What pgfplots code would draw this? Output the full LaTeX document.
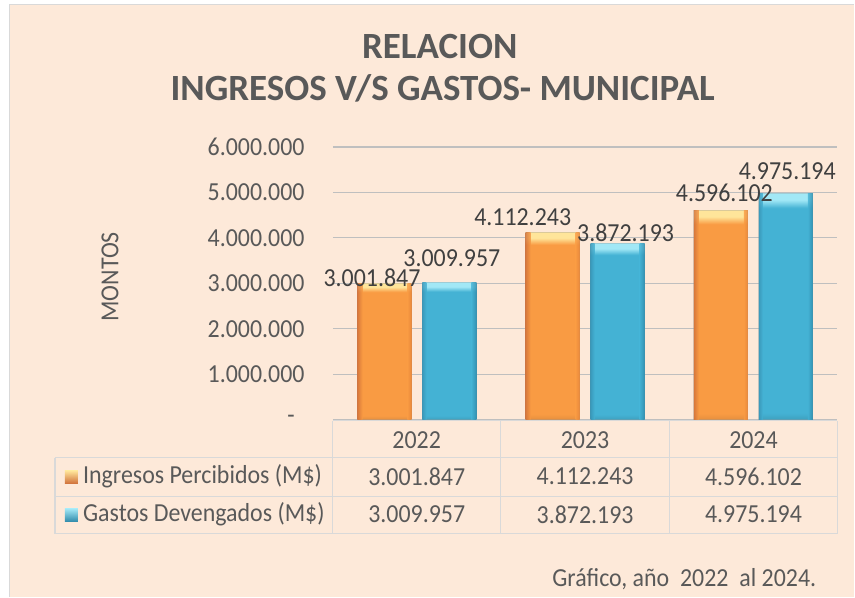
\documentclass[border=0pt]{standalone}
\usepackage{pgfplots}
\pgfplotsset{compat=1.18}
\usepackage{pgfplotstable}
\usepackage{fontspec}
\setmainfont{Carlito}[FakeStretch=0.92]
\newfontfamily\titlefont{Carlito}
\definecolor{bg}{HTML}{FDE9D9}
\definecolor{brd}{HTML}{D9D9D9}
\definecolor{txt}{HTML}{595959}
\definecolor{lbl}{HTML}{404040}
\definecolor{grid}{HTML}{D6DCE4}
\definecolor{oL}{HTML}{D0703A}
\definecolor{oM}{HTML}{F99B43}
\definecolor{oR}{HTML}{E5853A}
\definecolor{oH}{HTML}{FFE59A}
\definecolor{bL}{HTML}{3894B5}
\definecolor{bM}{HTML}{44B2D4}
\definecolor{bR}{HTML}{2F8AAA}
\definecolor{bH}{HTML}{A2E8F6}
\pgfdeclareverticalshading{overt}{100bp}{color(0bp)=(oM!92!black); color(25bp)=(oM!92!black); color(26.5bp)=(oM); color(71.8bp)=(oM); color(73.6bp)=(oH); color(75bp)=(oH); color(100bp)=(oH)}
\pgfdeclareverticalshading{bvert}{100bp}{color(0bp)=(bM!90!black); color(25bp)=(bM!90!black); color(26.5bp)=(bM); color(71.8bp)=(bM); color(73.6bp)=(bH); color(75bp)=(bH); color(100bp)=(bH)}
\newcommand\f{\fontsize{26}{30}\selectfont}
\pgfplotstableread{
x year ing gas
0 2022 3001847 3009957
1 2023 4112243 3872193
2 2024 4596102 4975194
}\datatable
\newcommand\cell[2]{\pgfplotstablegetelem{#1}{#2}\of\datatable\pgfmathprintnumber[fixed,1000 sep={.},assume math mode=true]{\pgfplotsretval}}
\begin{document}
\begin{tikzpicture}[x=1pt,y=1pt]
\fill[white] (0,0) rectangle (855,597);
\fill[bg] (9,0) rectangle (855,592.5);
\draw[brd, line width=1.2pt] (9.6,0) -- (9.6,592.4) -- (855,592.4);
\node[font=\fontsize{37}{40}\selectfont\titlefont\bfseries, text=txt] at (440,550) {RELACION};
\node[font=\fontsize{37}{40}\selectfont\titlefont\bfseries, text=txt] at (443,509) {INGRESOS V/S GASTOS- MUNICIPAL};
\begin{axis}[at={(333pt,177pt)}, anchor=south west, scale only axis,
  width=505pt, height=273pt, xmin=-0.5, xmax=2.5, ymin=0, ymax=6000000,
  xtick=\empty, ytick={0,1000000,2000000,3000000,4000000,5000000,6000000},
  yticklabels={\hbox{-\kern10pt},1.000.000,2.000.000,3.000.000,4.000.000,5.000.000,6.000.000},
  /pgf/number format/assume math mode=true,
  scaled y ticks=false,
  yticklabel style={font=\f, text=txt, inner sep=0pt, xshift=-28pt},
  ymajorgrids, grid style={grid, line width=1.3pt},
  axis line style={draw=none}, tick style={draw=none},
  clip=false]
\pgfplotsinvokeforeach{0,1,2}{
\addplot[ybar, bar width=54pt, bar shift=-32.5pt, draw=black!40, draw opacity=0.35, line width=1pt,
  shading=overt, restrict x to domain=#1:#1]
  table[x=x,y=ing]{\datatable};
\addplot[ybar, bar width=5pt, bar shift=-57pt, draw=none,
  left color=oL, right color=oM, fill opacity=0.8, restrict x to domain=#1:#1]
  table[x=x,y=ing]{\datatable};
\addplot[ybar, bar width=4pt, bar shift=-7.5pt, draw=none,
  left color=oM, right color=oR, fill opacity=0.8, restrict x to domain=#1:#1]
  table[x=x,y=ing]{\datatable};
\addplot[ybar, bar width=54pt, bar shift=32.5pt, draw=black!40, draw opacity=0.35, line width=1pt,
  shading=bvert, restrict x to domain=#1:#1]
  table[x=x,y=gas]{\datatable};
\addplot[ybar, bar width=4pt, bar shift=7.5pt, draw=none,
  left color=bL, right color=bM, fill opacity=0.8, restrict x to domain=#1:#1]
  table[x=x,y=gas]{\datatable};
\addplot[ybar, bar width=5pt, bar shift=57pt, draw=none,
  left color=bM, right color=bR, fill opacity=0.8, restrict x to domain=#1:#1]
  table[x=x,y=gas]{\datatable};
}
\node[font=\f, text=lbl] at (axis cs:-0.267,3120000) {\cell{0}{ing}};
\node[font=\f, text=lbl] at (axis cs:0.208,3560000) {\cell{0}{gas}};
\node[font=\f, text=lbl] at (axis cs:0.629,4460000) {\cell{1}{ing}};
\node[font=\f, text=lbl] at (axis cs:1.241,4110000) {\cell{1}{gas}};
\node[font=\f, text=lbl] at (axis cs:1.828,4990000) {\cell{2}{ing}};
\node[font=\f, text=lbl] at (axis cs:2.202,5470000) {\cell{2}{gas}};
\end{axis}
% data table
\begin{scope}[brd, line width=1.3pt]
\draw (333,176) -- (838,176);
\draw (55,139) -- (838,139);
\draw (55,100) -- (838,100);
\draw (55,63) -- (838,63);
\draw (55,63) -- (55,139);
\foreach \xx in {333,501,670,838} \draw (\xx,63) -- (\xx,176);
\end{scope}
\node[font=\f, text=txt] at (417,157) {2022};
\node[font=\f, text=txt] at (585.5,157) {2023};
\node[font=\f, text=txt] at (754,157) {2024};
\node[font=\f, text=txt] at (417,120) {\cell{0}{ing}};
\node[font=\f, text=txt] at (585.5,120) {\cell{1}{ing}};
\node[font=\f, text=txt] at (754,120) {\cell{2}{ing}};
\node[font=\f, text=txt] at (417,82) {\cell{0}{gas}};
\node[font=\f, text=txt] at (585.5,82) {\cell{1}{gas}};
\node[font=\f, text=txt] at (754,82) {\cell{2}{gas}};
\shade[top color=oH, bottom color=oL] (65,113) rectangle (78,126);
\shade[top color=bH, bottom color=bR] (65,75) rectangle (78,88);
\node[font=\f, text=txt, anchor=west, inner sep=0pt] at (83,120) {Ingresos Percibidos (M\$)};
\node[font=\f, text=txt, anchor=west, inner sep=0pt] at (83,82) {Gastos Devengados (M\$)};
\node[font=\f, text=txt, rotate=90] at (110,320) {MONTOS};
\node[font=\f, text=txt, anchor=east, inner sep=0pt] at (817,17) {Gráfico, año~ 2022~ al 2024.};
\end{tikzpicture}
\end{document}
